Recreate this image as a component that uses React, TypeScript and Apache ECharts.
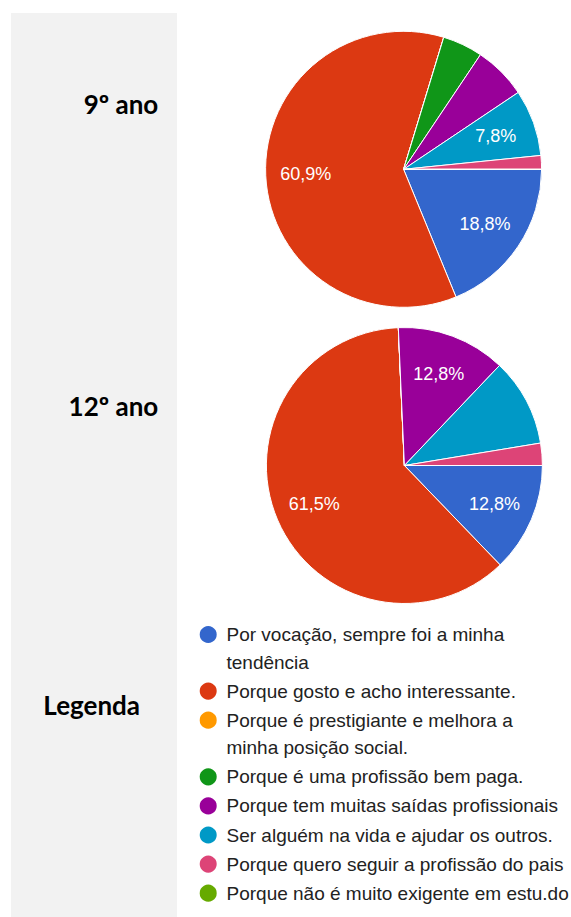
import React, { useEffect, useRef } from 'react';
import * as echarts from 'echarts';

const categories = [
  'Por vocação, sempre foi a minha tendência',
  'Porque gosto e acho interessante.',
  'Porque é prestigiante e melhora a minha posição social.',
  'Porque é uma profissão bem paga.',
  'Porque tem muitas saídas profissionais',
  'Ser alguém na vida e ajudar os outros.',
  'Porque quero seguir a profissão do pais',
  'Porque não é muito exigente em estu.do',
];
const legendLines = [
  'Por vocação, sempre foi a minha\ntendência',
  'Porque gosto e acho interessante.',
  'Porque é prestigiante e melhora a\nminha posição social.',
  'Porque é uma profissão bem paga.',
  'Porque tem muitas saídas profissionais',
  'Ser alguém na vida e ajudar os outros.',
  'Porque quero seguir a profissão do pais',
  'Porque não é muito exigente em estu.do',
];
const colors = ['#3366cc', '#dc3912', '#ff9900', '#109618', '#990099', '#0099c6', '#dd4477', '#66aa00'];

const values9 = [18.8, 60.9, 0, 4.7, 6.2, 7.8, 1.6, 0];
const showLabel9 = [true, true, false, false, false, true, false, false];
const values12 = [12.8, 61.5, 0, 0, 12.8, 10.3, 2.6, 0];
const showLabel12 = [true, true, false, false, true, false, false, false];

const groupTitles = ['9º ano', '12º ano'];
const legendTitle = 'Legenda';

export default function App() {
  const ref = useRef<HTMLDivElement>(null);
  useEffect(() => {
    const chart = echarts.init(ref.current as HTMLDivElement, null, { renderer: 'svg' });
    const font = '"Liberation Sans", Arial, sans-serif';
    const titleFont = 'Lato, "Open Sans", sans-serif';
    const L = 27.5;
    const GAP = 1.6;
    let c = 634.5;
    const legends = categories.map((name, i) => {
      const lines = legendLines[i].split('\n').length;
      const top = c - (lines === 2 ? 1.5 * L : 0.5 * L);
      c += lines * L + GAP;
      // for wrapped entries a leading blank line keeps the icon level with the first line
      const text = lines === 2 ? ' \n' + legendLines[i] : legendLines[i];
      return {
        orient: 'vertical',
        left: 197.7,
        top,
        padding: 0,
        itemWidth: 26.6,
        itemHeight: 19,
        icon: 'circle',
        selectedMode: false,
        formatter: () => text,
        textStyle: { fontSize: 19, fontFamily: font, color: '#222', lineHeight: L },
        data: [{ name }],
      };
    });

    const mainPie = (center: number[], values: number[]) => ({
      type: 'pie',
      center,
      radius: [0, 138],
      startAngle: 0,
      clockwise: true,
      silent: true,
      avoidLabelOverlap: false,
      label: { show: false },
      labelLine: { show: false },
      emphasis: { disabled: true },
      itemStyle: { borderColor: '#ffffff', borderWidth: 1 },
      data: categories.map((name, i) => ({ name, value: values[i], itemStyle: { color: colors[i] } })),
    });
    const labelPie = (center: number[], values: number[], show: boolean[]) => ({
      type: 'pie',
      center,
      radius: [52, 138],
      startAngle: 0,
      clockwise: true,
      silent: true,
      avoidLabelOverlap: false,
      emphasis: { disabled: true },
      labelLine: { show: false },
      itemStyle: { color: 'rgba(0,0,0,0)', borderWidth: 0 },
      label: {
        show: true,
        position: 'inside',
        color: '#ffffff',
        fontSize: 18,
        fontFamily: font,
        formatter: (p: any) => String(p.value).replace('.', ',') + '%',
      },
      data: categories.map((name, i) => ({ name, value: values[i], label: { show: show[i] } })),
    });

    const titleStyle = (text: string, x: number, y: number, align: string) => ({
      type: 'text',
      x,
      y,
      z: 5,
      style: {
        text,
        align,
        verticalAlign: 'middle',
        fontSize: 26,
        fontWeight: 'bold',
        fontFamily: titleFont,
        fill: '#000000',
      },
    });

    chart.setOption({
      animation: false,
      backgroundColor: '#ffffff',
      legend: legends,
      graphic: [
        { type: 'rect', z: 0, shape: { x: 11, y: 13, width: 166, height: 904 }, style: { fill: '#f2f2f2' } },
        titleStyle(groupTitles[0], 158.3, 104, 'right'),
        titleStyle(groupTitles[1], 158.3, 405.5, 'right'),
        titleStyle(legendTitle, 43.3, 704.5, 'left'),
      ],
      series: [
        mainPie([403.6, 169.3], values9),
        labelPie([403.6, 169.3], values9, showLabel9),
        mainPie([404.4, 465.5], values12),
        labelPie([404.4, 465.5], values12, showLabel12),
      ],
    });
    return () => chart.dispose();
  }, []);
  return (
    <div
      ref={ref}
      style={{ position: 'absolute', left: 0, top: 0, width: 571, height: 917 }}
    />
  );
}
